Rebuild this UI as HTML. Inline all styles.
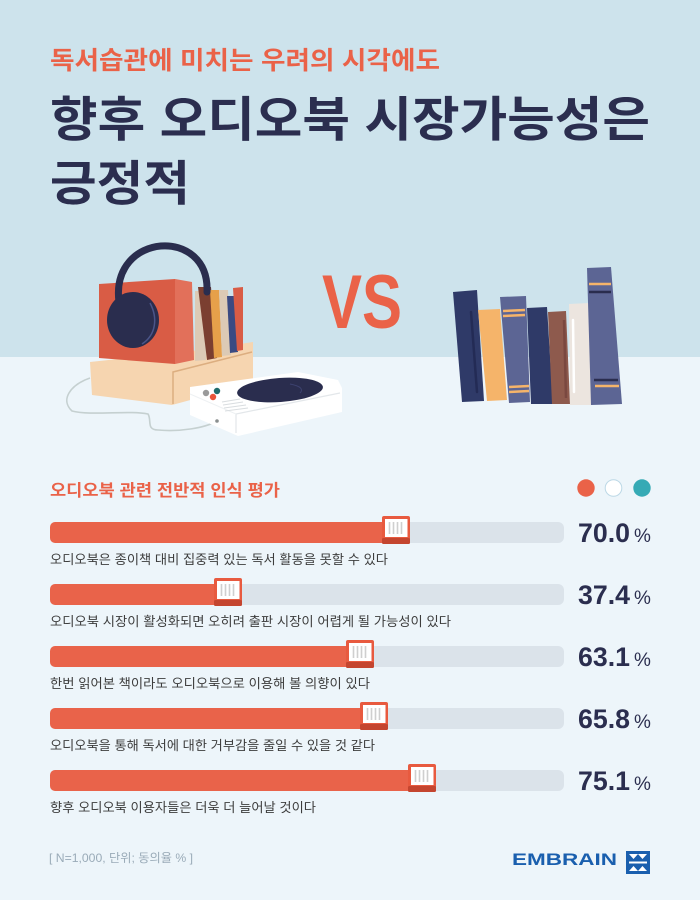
<!DOCTYPE html>
<html><head><meta charset="utf-8"><style>
html,body{margin:0;padding:0;}
body{width:700px;height:900px;overflow:hidden;background:#edf5fa;}
svg{display:block;}
.k{font-family:"Liberation Sans","Noto Sans CJK KR",sans-serif;}
</style></head><body>
<svg width="700" height="900" viewBox="0 0 700 900" xmlns="http://www.w3.org/2000/svg">
<rect x="0" y="0" width="700" height="357" fill="#cde3ec"/>
<rect x="0" y="357" width="700" height="543" fill="#edf5fa"/>

<!-- Titles -->
<text class="k" x="50" y="69" font-size="25" font-weight="700" fill="#ea6248" textLength="390" lengthAdjust="spacingAndGlyphs">독서습관에 미치는 우려의 시각에도</text>
<text class="k" x="50" y="136" font-size="48" font-weight="700" fill="#2b2e4f" textLength="600" lengthAdjust="spacingAndGlyphs">향후 오디오북 시장가능성은</text>
<text class="k" x="50" y="200" font-size="48" font-weight="700" fill="#2b2e4f" textLength="140" lengthAdjust="spacingAndGlyphs">긍정적</text>

<!-- Left illustration -->
<path d="M90,378 C70,385 60,400 72,411 C90,416 130,410 148,414 C152,420 146,430 158,430 C180,432 205,428 217,421" fill="none" stroke="#c5d0d0" stroke-width="1.6"/>
<polygon points="90,362 200,350 253,342 253,383 172,405 92,395" fill="#f6d5b0"/>
<polyline points="252,352 173,372 173,404" fill="none" stroke="#dcae80" stroke-width="1.5"/>
<!-- books in box -->
<polygon points="195,291 206,291 206,360 195,361" fill="#dccab5"/>
<polygon points="198,287 211,287 217,358 207,360" fill="#7b3f30"/>
<polygon points="210,290 219,290 222,357 214,358" fill="#e6a04a"/>
<polygon points="219,290 228,290 231,355 222,356" fill="#dccab5"/>
<polygon points="227,296 235,296 238,352 230,353" fill="#3a4a82"/>
<polygon points="233,288 243,287 243,350 237,351" fill="#d95c45"/>
<!-- red box -->
<polygon points="175,279 192,282 194,360 175,364" fill="#e2705a"/>
<polygon points="99,284 175,279 175,364 99,358" fill="#d95c45"/>
<!-- headband -->
<path d="M119,302 C110,232 210,226 207,292" fill="none" stroke="#2a2d4e" stroke-width="7" stroke-linecap="round"/>
<ellipse cx="133" cy="320" rx="26" ry="28" fill="#2a2d4e"/>
<path d="M150,303 C158,318 156,335 142,344" fill="none" stroke="#4b5589" stroke-width="1.5"/>
<!-- turntable -->
<polygon points="190,387 298,372 338,380 342,388 342,412 238,436 190,415" fill="#ffffff"/>
<polyline points="340,393 236,414 236,433" fill="none" stroke="#e3e7ea" stroke-width="1.2"/>
<line x1="190" y1="394" x2="236" y2="414" stroke="#eef1f3" stroke-width="1"/>
<ellipse cx="280" cy="390" rx="43" ry="12" fill="#2a2d4e" transform="rotate(-4 280 390)"/>
<path d="M290,384 C300,386 304,389 300,393" fill="none" stroke="#3d4270" stroke-width="1"/>
<circle cx="206" cy="393" r="3.2" fill="#9a9a9a"/>
<circle cx="217" cy="391" r="3.2" fill="#1f6b6b"/>
<circle cx="213" cy="397" r="3.2" fill="#e8553a"/>
<g stroke="#d9dde0" stroke-width="1">
<line x1="222" y1="402" x2="240" y2="399"/>
<line x1="223" y1="405" x2="243" y2="402"/>
<line x1="224" y1="408" x2="246" y2="405"/>
<line x1="225" y1="411" x2="248" y2="408"/>
</g>
<circle cx="217" cy="421" r="1.8" fill="#8a8f8f"/>

<!-- VS -->
<text x="322" y="328" font-family="Liberation Sans, sans-serif" font-size="76" font-weight="700" fill="#ea6248" textLength="80" lengthAdjust="spacingAndGlyphs">VS</text>

<!-- Right books -->
<polygon points="453,292 477,290 484,401 462,402" fill="#2f3a68"/>
<line x1="471" y1="312" x2="477" y2="392" stroke="#232b55" stroke-width="2.5" stroke-linecap="round"/>
<polygon points="478,310 500,309 507,400 487,401" fill="#f5b46a"/>
<polygon points="500,297 526,296 530,402 509,403" fill="#5c6594"/>
<line x1="503" y1="311" x2="525" y2="310" stroke="#f5b46a" stroke-width="2.5"/>
<line x1="503" y1="316" x2="525" y2="315" stroke="#f5b46a" stroke-width="2.5"/>
<line x1="509" y1="387" x2="529" y2="386" stroke="#f5b46a" stroke-width="2.5"/>
<line x1="509" y1="392" x2="529" y2="391" stroke="#f5b46a" stroke-width="2.5"/>
<polygon points="527,308 547,307 553,404 531,404" fill="#2f3a68"/>
<polygon points="548,312 566,311 570,404 552,404" fill="#8e5a4d"/>
<line x1="564" y1="320" x2="566" y2="398" stroke="#7a4840" stroke-width="2.5"/>
<polygon points="569,304 589,303 593,405 570,405" fill="#ece5df"/>
<line x1="573" y1="320" x2="574" y2="392" stroke="#ffffff" stroke-width="2.5" stroke-linecap="round"/>
<polygon points="587,268 611,267 622,404 591,405" fill="#5c6594"/>
<line x1="589" y1="284" x2="611" y2="284" stroke="#f5b46a" stroke-width="2.5"/>
<line x1="589" y1="292" x2="611" y2="292" stroke="#2a2d4e" stroke-width="2.5"/>
<line x1="594" y1="380" x2="618" y2="380" stroke="#2a2d4e" stroke-width="2.5"/>
<line x1="595" y1="386" x2="619" y2="386" stroke="#f5b46a" stroke-width="2.5"/>

<!-- Chart heading -->
<text class="k" x="50" y="496" font-size="16.5" font-weight="700" fill="#ea6248" textLength="230" lengthAdjust="spacingAndGlyphs">오디오북 관련 전반적 인식 평가</text>
<circle cx="586" cy="488" r="8.7" fill="#ea6248"/>
<circle cx="613.5" cy="488" r="8.3" fill="#ffffff" stroke="#bcd8e6" stroke-width="1"/>
<circle cx="642" cy="488" r="8.7" fill="#36aab5"/>

<!-- Bars -->
<defs>
<g id="knob">
<rect x="-28" y="-6" width="28" height="28" rx="2" fill="#e85a3f"/>
<rect x="-28" y="16" width="28" height="6" rx="1.5" fill="#c4452f"/>
<rect x="-25" y="-3" width="22.5" height="18" fill="#ffffff"/>
<g stroke="#cfcfcf" stroke-width="1.6">
<line x1="-20.5" y1="0" x2="-20.5" y2="12"/>
<line x1="-16.5" y1="0" x2="-16.5" y2="12"/>
<line x1="-12.5" y1="0" x2="-12.5" y2="12"/>
<line x1="-8.5" y1="0" x2="-8.5" y2="12"/>
</g>
</g>
</defs>

<!-- bar 1 -->
<rect x="50" y="522" width="514" height="21" rx="6" fill="#dbe3ea"/>
<rect x="50" y="522" width="350" height="21" rx="5" fill="#e9634a"/>
<use href="#knob" transform="translate(410 522)"/>
<text class="k" x="50" y="564" font-size="13" fill="#3d3d3d" textLength="338" lengthAdjust="spacingAndGlyphs">오디오북은 종이책 대비 집중력 있는 독서 활동을 못할 수 있다</text>
<text x="578" y="542" font-family="Liberation Sans, sans-serif" font-size="27" font-weight="700" fill="#2b2e4f" textLength="52" lengthAdjust="spacingAndGlyphs">70.0</text>
<text x="634" y="542" font-family="Liberation Sans, sans-serif" font-size="19" fill="#2b2e4f">%</text>

<!-- bar 2 -->
<rect x="50" y="584" width="514" height="21" rx="6" fill="#dbe3ea"/>
<rect x="50" y="584" width="182" height="21" rx="5" fill="#e9634a"/>
<use href="#knob" transform="translate(242 584)"/>
<text class="k" x="50" y="626" font-size="13" fill="#3d3d3d" textLength="401" lengthAdjust="spacingAndGlyphs">오디오북 시장이 활성화되면 오히려 출판 시장이 어렵게 될 가능성이 있다</text>
<text x="578" y="604" font-family="Liberation Sans, sans-serif" font-size="27" font-weight="700" fill="#2b2e4f" textLength="52" lengthAdjust="spacingAndGlyphs">37.4</text>
<text x="634" y="604" font-family="Liberation Sans, sans-serif" font-size="19" fill="#2b2e4f">%</text>

<!-- bar 3 -->
<rect x="50" y="646" width="514" height="21" rx="6" fill="#dbe3ea"/>
<rect x="50" y="646" width="314" height="21" rx="5" fill="#e9634a"/>
<use href="#knob" transform="translate(374 646)"/>
<text class="k" x="50" y="688" font-size="13" fill="#3d3d3d" textLength="320" lengthAdjust="spacingAndGlyphs">한번 읽어본 책이라도 오디오북으로 이용해 볼 의향이 있다</text>
<text x="578" y="666" font-family="Liberation Sans, sans-serif" font-size="27" font-weight="700" fill="#2b2e4f" textLength="52" lengthAdjust="spacingAndGlyphs">63.1</text>
<text x="634" y="666" font-family="Liberation Sans, sans-serif" font-size="19" fill="#2b2e4f">%</text>

<!-- bar 4 -->
<rect x="50" y="708" width="514" height="21" rx="6" fill="#dbe3ea"/>
<rect x="50" y="708" width="328" height="21" rx="5" fill="#e9634a"/>
<use href="#knob" transform="translate(388 708)"/>
<text class="k" x="50" y="750" font-size="13" fill="#3d3d3d" textLength="325" lengthAdjust="spacingAndGlyphs">오디오북을 통해 독서에 대한 거부감을 줄일 수 있을 것 같다</text>
<text x="578" y="728" font-family="Liberation Sans, sans-serif" font-size="27" font-weight="700" fill="#2b2e4f" textLength="52" lengthAdjust="spacingAndGlyphs">65.8</text>
<text x="634" y="728" font-family="Liberation Sans, sans-serif" font-size="19" fill="#2b2e4f">%</text>

<!-- bar 5 -->
<rect x="50" y="770" width="514" height="21" rx="6" fill="#dbe3ea"/>
<rect x="50" y="770" width="376" height="21" rx="5" fill="#e9634a"/>
<use href="#knob" transform="translate(436 770)"/>
<text class="k" x="50" y="812" font-size="13" fill="#3d3d3d" textLength="266" lengthAdjust="spacingAndGlyphs">향후 오디오북 이용자들은 더욱 더 늘어날 것이다</text>
<text x="578" y="790" font-family="Liberation Sans, sans-serif" font-size="27" font-weight="700" fill="#2b2e4f" textLength="52" lengthAdjust="spacingAndGlyphs">75.1</text>
<text x="634" y="790" font-family="Liberation Sans, sans-serif" font-size="19" fill="#2b2e4f">%</text>

<!-- Footer -->
<text class="k" x="49" y="862" font-size="12" fill="#9aabb8" textLength="144" lengthAdjust="spacingAndGlyphs">[ N=1,000, 단위; 동의율 % ]</text>
<text x="512" y="865" font-family="Liberation Sans, sans-serif" font-size="16.5" font-weight="700" fill="#1a5fae" textLength="105" lengthAdjust="spacingAndGlyphs">EMBRAIN</text>
<rect x="626" y="851" width="24" height="23" fill="#1a5fae"/>
<g fill="#ffffff">
<polygon points="629,854 638,854 633.5,859"/>
<polygon points="638,854 647,854 642.5,859"/>
<polygon points="629,871 638,871 633.5,866"/>
<polygon points="638,871 647,871 642.5,866"/>
<rect x="629" y="861.5" width="18" height="2"/>
</g>
</svg>
</body></html>
